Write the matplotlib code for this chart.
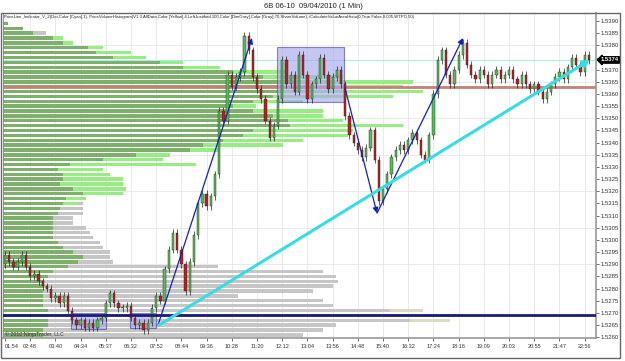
import matplotlib.pyplot as plt
from matplotlib.patches import Rectangle
import matplotlib.transforms as mtransforms
import numpy as np

plt.rcParams['font.family'] = ['Liberation Sans', 'DejaVu Sans']

title = '6B 06-10  09/04/2010 (1 Min)'
indicator_text = ('PriceLine_Indicator_V_2(Dot,Color [Cyan],1), PriceVolumeHistogram(V1.3,AllData,Color [Yellow],4,'
                  'LeftJustified,100,Color [DimGray],Color [Gray],70,ShareVolume), '
                  'iCalculateValueAreaHisto(0,True,False,0.005,WTPO,50)')
copyright_text = '\u00a9 2010 NinjaTrader, LLC'

time_labels = ['01:54', '02:48', '03:40', '04:34', '05:37', '06:32', '07:52', '08:44',
               '09:36', '10:28', '11:20', '12:12', '13:04', '13:56', '14:48', '15:40',
               '16:32', '17:24', '18:16', '19:09', '20:03', '20:55', '21:47', '22:56']

# candle closes (open = previous close)
first_open = 1.5290
closes = [
    1.5294, 1.5291, 1.5289, 1.5291, 1.5294, 1.5289, 1.5285, 1.5286, 1.5283, 1.5281,
    1.5280, 1.5276, 1.5277, 1.5274, 1.5277, 1.5271, 1.5267, 1.5265, 1.5267, 1.5264,
    1.5266, 1.5264, 1.5267, 1.5268, 1.5274, 1.5278, 1.5274, 1.5272, 1.5272, 1.5273,
    1.5268, 1.5265, 1.5266, 1.5263, 1.5266, 1.5272, 1.5277, 1.5275, 1.5288, 1.5296,
    1.5303, 1.5296, 1.5290, 1.5279, 1.5291, 1.5302, 1.5315, 1.5319, 1.5314, 1.5318,
    1.5327, 1.5353, 1.5349, 1.5368, 1.5363, 1.5367, 1.5369, 1.5384, 1.5378, 1.5367,
    1.5362, 1.5358, 1.5349, 1.5342, 1.5347, 1.5358, 1.5374, 1.5364, 1.5368, 1.5361,
    1.5376, 1.5368, 1.5358, 1.5364, 1.5366, 1.5375, 1.5368, 1.5362, 1.5367, 1.5370,
    1.5364, 1.5351, 1.5343, 1.5340, 1.5337, 1.5334, 1.5338, 1.5345, 1.5333, 1.5316,
    1.5321, 1.5327, 1.5334, 1.5337, 1.5339, 1.5337, 1.5341, 1.5344, 1.5341, 1.5335,
    1.5333, 1.5343, 1.5360, 1.5374, 1.5378, 1.5368, 1.5364, 1.5370, 1.5376, 1.5381,
    1.5372, 1.5368, 1.5366, 1.5370, 1.5368, 1.5364, 1.5368, 1.5370, 1.5366, 1.5368,
    1.5370, 1.5366, 1.5364, 1.5368, 1.5364, 1.5362, 1.5364, 1.5361, 1.5358, 1.5361,
    1.5364, 1.5367, 1.5369, 1.5366, 1.5371, 1.5375, 1.5372, 1.5369, 1.5376, 1.5374,
]
last_price = 1.5374

# volume profile, one row per 2 ticks from the top
hist_prices = [
    1.5389, 1.5387, 1.5385, 1.5383, 1.5381, 1.5379, 1.5377, 1.5375, 1.5373, 1.5371,
    1.5369, 1.5367, 1.5365, 1.5363, 1.5361, 1.5359, 1.5357, 1.5355, 1.5353, 1.5351,
    1.5349, 1.5347, 1.5345, 1.5343, 1.5341, 1.5339, 1.5337, 1.5335, 1.5333, 1.5331,
    1.5329, 1.5327, 1.5325, 1.5323, 1.5321, 1.5319, 1.5317, 1.5315, 1.5313, 1.5311,
    1.5309, 1.5307, 1.5305, 1.5303, 1.5301, 1.5299, 1.5297, 1.5295, 1.5293, 1.5291,
    1.5289, 1.5287, 1.5285, 1.5283, 1.5281, 1.5279, 1.5277, 1.5275, 1.5273, 1.5271,
    1.5269, 1.5267, 1.5265, 1.5263, 1.5261,
]
vol_green_dark = [
    5, 20, 30, 50, 60, 85, 93, 110, 157, 180,
    230, 260, 280, 280, 280, 270, 250, 230, 250, 270,
    285, 287, 250, 240, 220, 200, 187, 133, 100, 67,
    55, 60, 60, 57, 70, 80, 63, 60, 57, 55,
    50, 50, 50, 50, 50, 55, 60, 70, 80, 75,
    65, 50, 45, 40, 40, 40, 40, 40, 40, 45,
    45, 45, 45, 40, 40,
]
vol_green = [
    5, 20, 30, 60, 70, 100, 128, 143, 180, 217,
    283, 340, 410, 400, 420, 390, 300, 253, 320, 320,
    340, 400, 350, 345, 300, 280, 215, 167, 160, 193,
    100, 107, 120, 120, 123, 120, 83, 75, 57, 55,
    50, 50, 50, 50, 50, 55, 60, 70, 80, 75,
    65, 50, 45, 40, 40, 40, 40, 40, 40, 45,
    45, 45, 45, 40, 40,
]
vol_gray = [
    0, 0, 43, 0, 0, 0, 0, 0, 0, 0,
    0, 0, 0, 0, 0, 0, 0, 0, 0, 0,
    0, 0, 0, 0, 0, 0, 0, 0, 0, 0,
    0, 0, 0, 0, 0, 0, 0, 80, 80, 80,
    70, 70, 83, 87, 90, 97, 100, 107, 107, 110,
    215, 320, 333, 335, 330, 310, 235, 320, 330, 387,
    400, 407, 333, 320, 300,
]
vol_value_area = [0] * 59 + [420, 460, 447, 0, 0, 0]

poc_price = 1.5363
support_price = 1.5269

# drawn objects: (x in time-label units, price)
value_boxes = [((2.62, 1.52634), (4.01, 1.5270)),
               ((4.96, 1.52638), (5.99, 1.5270)),
               ((10.79, 1.53567), (13.45, 1.53793))]
blue_lines = [((6.07, 1.5265), (9.80, 1.5383)),
              ((13.49, 1.53625), (14.76, 1.5311)),
              ((14.76, 1.5311), (18.17, 1.5383))]
cyan_line = ((6.11, 1.5265), (23.21, 1.5374))

px_per_unit = 25.2
xmin, xmax = -0.08, 23.45
ymin, ymax = 1.52597, 1.53933

fig = plt.figure(figsize=(6.25, 3.61), dpi=100)
ax = fig.add_axes([3 / 625, 1 - 338 / 361, 593 / 625, 325 / 361])
ax.set_xlim(xmin, xmax)
ax.set_ylim(ymin, ymax)

# horizontal volume histogram (left justified)
hp = np.array(hist_prices)
bh = 0.00014
ax.barh(hp, np.array(vol_value_area) / px_per_unit, left=xmin, height=bh,
        color='#dcdcc4', lw=0, zorder=1)
ax.barh(hp, np.array(vol_gray) / px_per_unit, left=xmin, height=bh,
        color='#c6c6c6', lw=0, zorder=1.1)
ax.barh(hp, np.array(vol_green) / px_per_unit, left=xmin, height=bh,
        color='#98ec84', lw=0, zorder=1.2)
ax.barh(hp, np.array(vol_green_dark) / px_per_unit, left=xmin, height=bh,
        color='#7faf6c', lw=0, zorder=1.3)

# POC, price line
ax.axhline(poc_price, color='#c87f76', lw=2, zorder=1.5)
ax.axhline(last_price, color='#a8eeee', lw=0.8, zorder=1.5)

# value area boxes
for (x0, y0), (x1, y1) in value_boxes:
    ax.add_patch(Rectangle((x0, y0), x1 - x0, y1 - y0, fc='#a8a8ee', ec='#4a4aa0',
                           alpha=0.65, lw=0.8, zorder=2))

# candles
n = len(closes)
xs = np.arange(n) / 6
c = np.array(closes)
o = np.array([first_open] + closes[:-1])
hi = np.maximum(o, c) + 0.00015
lo = np.minimum(o, c) - 0.00015
body = np.where(np.abs(c - o) < 0.00003, 0.00003, c - o)
cols = np.where(c >= o, '#55c055', '#b82020')
ax.vlines(xs, lo, hi, color='#202020', lw=0.5, zorder=3)
ax.bar(xs, body, bottom=o, width=0.09, color=cols, edgecolor='#202020', lw=0.3, zorder=3.1)

ax.axhline(support_price, color='#1c1c7c', lw=2, zorder=4)

# trend lines
for start, end in blue_lines:
    ax.annotate('', xy=end, xytext=start,
                arrowprops=dict(arrowstyle='-|>', color='#1020c0', lw=0.9, mutation_scale=8,
                                shrinkA=0, shrinkB=0), zorder=5)
ax.annotate('', xy=cyan_line[1], xytext=cyan_line[0],
            arrowprops=dict(arrowstyle='-|>', color='#38dce4', lw=2.2, mutation_scale=9,
                            shrinkA=0, shrinkB=0), zorder=5)

# axes
ax.set_xticks(range(len(time_labels)))
ax.set_xticklabels(time_labels)
ax.get_xticklabels()[0].set_horizontalalignment('left')
yt = np.round(np.arange(1.5260, 1.53905, 0.0005), 4)
ax.set_yticks(yt)
ax.set_yticklabels(['' if abs(v - 1.5375) < 1e-6 else '%.4f' % v for v in yt])
ax.yaxis.tick_right()
ax.tick_params(axis='y', direction='out', length=2, width=0.5, pad=1, labelsize=4.3, colors='#333333')
ax.tick_params(axis='x', direction='out', length=2, width=0.5, pad=2, labelsize=4, colors='#333333')
ax.grid(axis='x', color='#e6e6e6', lw=0.6, zorder=0)
for gp in [1.5290, 1.5305, 1.5320, 1.5335, 1.5350, 1.5365, 1.5380]:
    ax.axhline(gp, color='#e6e6e6', lw=0.6, zorder=0)
ax.set_axisbelow(True)
for s in ['top', 'left']:
    ax.spines[s].set_color('#888888')
    ax.spines[s].set_linewidth(0.6)
for s in ['right', 'bottom']:
    ax.spines[s].set_color('#999999')
    ax.spines[s].set_linewidth(1.2)

# current price marker
trans = mtransforms.blended_transform_factory(ax.transAxes, ax.transData)
ax.text(1.008, last_price, '%.4f' % last_price, transform=trans, color='white', fontsize=4.2,
        fontweight='bold', va='center', ha='left', clip_on=False, zorder=10,
        bbox=dict(boxstyle='larrow,pad=0.12', fc='black', ec='black'))

ax.text(0.002, 0.988, indicator_text, transform=ax.transAxes, fontsize=3.05, va='center',
        ha='left', color='#222222', zorder=10)
ax.text(0.004, 0.004, copyright_text, transform=ax.transAxes, fontsize=3.8, va='bottom',
        ha='left', color='#333333', zorder=10)

fig.text(313 / 625, 1 - 7 / 361, title, ha='center', va='center', fontsize=5.5, color='#222222')
fig.add_artist(Rectangle((1 / 625, 3 / 361), 619 / 625, 345 / 361, transform=fig.transFigure,
                         fill=False, ec='#666666', lw=1))

fig.savefig('out.png', dpi=100)
